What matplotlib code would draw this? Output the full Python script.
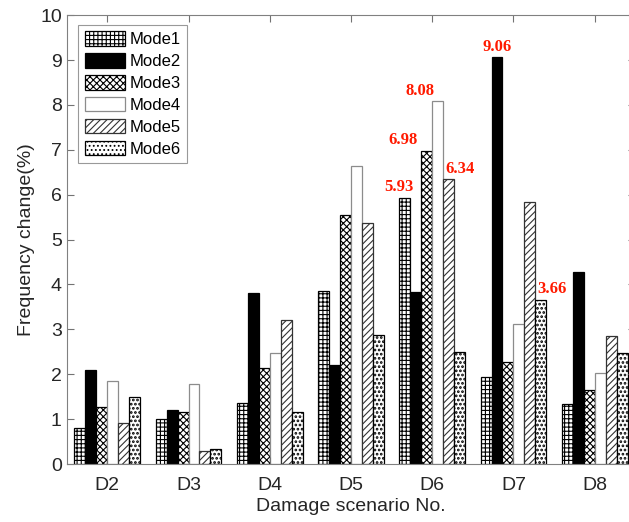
import matplotlib.pyplot as plt
import numpy as np

plt.rcParams['font.family'] = ['Liberation Sans', 'DejaVu Sans']
plt.rcParams['hatch.linewidth'] = 0.8

scenarios = ['D2', 'D3', 'D4', 'D5', 'D6', 'D7', 'D8']
modes = ['Mode1', 'Mode2', 'Mode3', 'Mode4', 'Mode5', 'Mode6']

mode1 = [0.80, 1.00, 1.35, 3.85, 5.93, 1.95, 1.33]
mode2 = [2.10, 1.20, 3.82, 2.20, 3.83, 9.06, 4.27]
mode3 = [1.26, 1.17, 2.13, 5.55, 6.98, 2.28, 1.65]
mode4 = [1.84, 1.78, 2.47, 6.63, 8.08, 3.13, 2.03]
mode5 = [0.92, 0.28, 3.20, 5.38, 6.34, 5.83, 2.85]
mode6 = [1.50, 0.33, 1.15, 2.87, 2.50, 3.66, 2.47]
series = [mode1, mode2, mode3, mode4, mode5, mode6]

# labelled peaks: (mode index, scenario index, horizontal offset in points)
peaks = [(0, 4, -4), (2, 4, -17), (3, 4, -13), (4, 4, 8), (1, 5, 0), (5, 5, 8)]

styles = [
    dict(color='white', edgecolor='black', hatch='++++'),
    dict(color='black', edgecolor='black'),
    dict(color='white', edgecolor='black', hatch='xxxxx'),
    dict(color='white', edgecolor='0.55'),
    dict(color='white', edgecolor='0.2', hatch='/////'),
    dict(color='white', edgecolor='black', hatch='....'),
]
hatch_lw = [0.8, 0.8, 0.8, 0.8, 0.8, 1.3]

fig = plt.figure(figsize=(6.29, 5.22), dpi=100)
ax = fig.add_axes([0.106, 0.111, 0.904, 0.860])

x = np.arange(1, len(scenarios) + 1)
w = 0.135
for j, (vals, st) in enumerate(zip(series, styles)):
    plt.rcParams['hatch.linewidth'] = hatch_lw[j]
    ax.bar(x + (j - 2.5) * w, vals, w, label=modes[j], linewidth=0.9, **st)
plt.rcParams['hatch.linewidth'] = 0.8

for j, i, dx in peaks:
    ax.annotate(f'{series[j][i]:.2f}', (x[i] + (j - 2.5) * w, series[j][i]),
                xytext=(dx, 2), textcoords='offset points', ha='center', va='bottom',
                color='#ff1a00', fontsize=12, fontweight='bold', family='Liberation Serif')

ax.set_xlim(0.5, 7.5)
ax.set_ylim(0, 10)
ax.set_xticks(x)
ax.set_xticklabels(scenarios)
ax.set_yticks(np.arange(0, 11, 1))
ax.tick_params(direction='in', top=True, right=True, labelsize=14, colors='0.45',
               labelcolor='0.15', length=5)
ax.tick_params(axis='x', pad=9)
for s in ax.spines.values():
    s.set_color('0.5')
ax.set_xlabel('Damage scenario No.', fontsize=14, color='0.15', labelpad=3)
ax.set_ylabel('Frequency change(%)', fontsize=14, color='0.15')

leg = ax.legend(loc='upper left', bbox_to_anchor=(0.012, 0.99), fontsize=12,
                fancybox=False, handlelength=2.4, handleheight=0.95, labelspacing=0.36,
                handletextpad=0.25, borderpad=0.4, borderaxespad=0.3)
leg.get_frame().set_edgecolor('0.5')
leg.get_frame().set_linewidth(0.8)

fig.savefig('out.png', dpi=100)
